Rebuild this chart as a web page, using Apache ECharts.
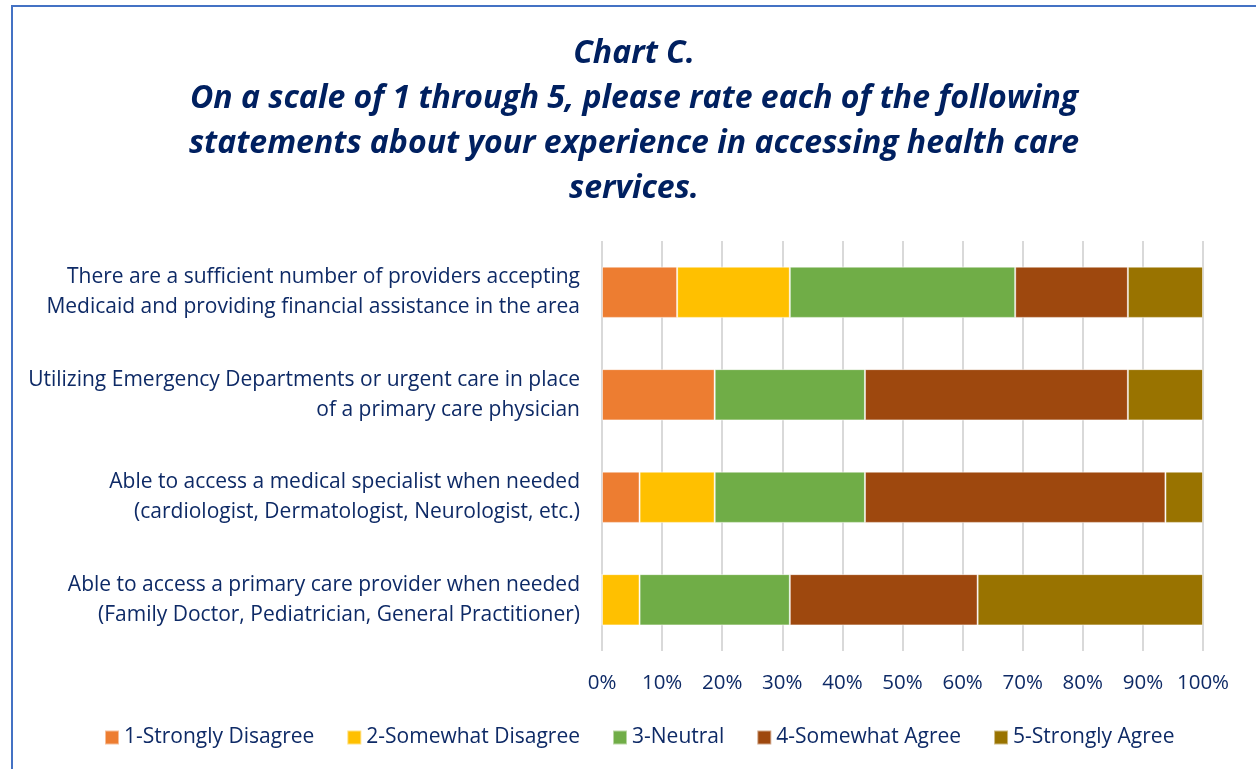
<!DOCTYPE html>
<html>
<head>
<meta charset="utf-8">
<script src="https://cdn.jsdelivr.net/npm/echarts@6/dist/echarts.min.js"></script>
<style>
  html, body { margin: 0; padding: 0; background: #fff; overflow: hidden; }
  #chart { width: 1256px; height: 769px; }
  .frame { position: absolute; left: 11px; top: 5px; width: 1300px; height: 800px; border: 2px solid #4472C4; pointer-events: none; }
</style>
</head>
<body>
<div id="chart"></div>
<div class="frame"></div>
<script>
const categories = [
  'Able to access a primary care provider when needed\n(Family Doctor, Pediatrician, General Practitioner)',
  'Able to access a medical specialist when needed\n(cardiologist, Dermatologist, Neurologist, etc.)',
  'Utilizing Emergency Departments or urgent care in place\nof a primary care physician',
  'There are a sufficient number of providers accepting\nMedicaid and providing financial assistance in the area'
]
const seriesNames = ['1-Strongly Disagree', '2-Somewhat Disagree', '3-Neutral', '4-Somewhat Agree', '5-Strongly Agree']
const stronglyDisagree = [0, 6.25, 18.75, 12.5]
const somewhatDisagree = [6.25, 12.5, 0, 18.75]
const neutral = [25, 25, 25, 37.5]
const somewhatAgree = [31.25, 50, 43.75, 18.75]
const stronglyAgree = [37.5, 6.25, 12.5, 12.5]
const colors = ['#ED7D31', '#FFC000', '#70AD47', '#9E480E', '#997300']

const textColor = '#0E2A66'
const fontFamily = 'Open Sans, Noto Sans, sans-serif'
const values = [stronglyDisagree, somewhatDisagree, neutral, somewhatAgree, stronglyAgree]

const chart = echarts.init(document.getElementById('chart'))
chart.setOption({
  color: colors,
  animation: false,
  title: {
    text: 'Chart C.\nOn a scale of 1 through 5, please rate each of the following\nstatements about your experience in accessing health care\nservices.',
    left: 629,
    top: 26,
    textAlign: 'center',
    textStyle: {
      color: '#002060',
      fontFamily: fontFamily,
      fontSize: 32,
      fontWeight: 'bold',
      fontStyle: 'italic',
      lineHeight: 45
    }
  },
  legend: {
    bottom: 16,
    left: 99,
    itemWidth: 14,
    itemHeight: 14,
    itemGap: 32,
    icon: 'rect',
    textStyle: { color: textColor, fontFamily: fontFamily, fontSize: 21 }
  },
  grid: { left: 602, right: 53, top: 241, bottom: 118 },
  xAxis: {
    type: 'value',
    min: 0,
    max: 100,
    interval: 10,
    axisLine: { show: false },
    axisTick: { show: false },
    axisLabel: { color: textColor, fontFamily: fontFamily, fontSize: 20.5, margin: 22, formatter: '{value}%' },
    splitLine: { lineStyle: { color: '#D9D9D9', width: 2 } }
  },
  yAxis: {
    type: 'category',
    data: categories,
    axisLine: { show: false },
    axisTick: { show: false },
    axisLabel: { color: textColor, fontFamily: fontFamily, fontSize: 21, lineHeight: 30, margin: 22, align: 'right' }
  },
  series: seriesNames.map((name, i) => ({
    name: name,
    type: 'bar',
    stack: 'total',
    barCategoryGap: '50%',
    itemStyle: { borderColor: 'rgba(255,255,255,0.5)', borderWidth: 1 },
    data: values[i]
  }))
})
</script>
</body>
</html>
